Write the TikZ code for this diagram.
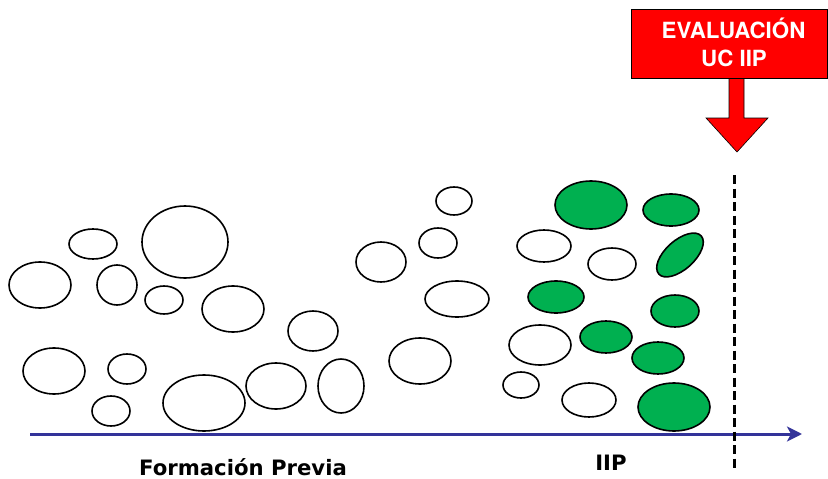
\documentclass[tikz,border=0pt]{standalone}
\usepackage{fontspec}
\newfontfamily\lblfont{DejaVu Sans}[BoldFont={DejaVu Sans Bold}]
\newfontfamily\boxfont{TeX Gyre Heros}
\usetikzlibrary{shapes.geometric, arrows.meta, positioning}
\definecolor{axisblue}{RGB}{51,51,153}
\definecolor{donegreen}{RGB}{0,176,80}

\begin{document}
\begin{tikzpicture}[x=1pt, y=-1pt,
    bubble/.style={draw, ellipse, line width=1.6pt, inner sep=0pt},
    done/.style={bubble, fill=donegreen},
    axislbl/.style={font=\lblfont\bfseries\fontsize{21.2}{24}\selectfont, anchor=base},
    boxlbl/.style={font=\boxfont\bfseries\fontsize{22.3}{26}\selectfont, text=white, anchor=base}]
\useasboundingbox (0,0) rectangle (828,479);

% earlier training
\node[bubble, minimum width=62pt, minimum height=46pt] (w1) at (40,285) {};
\node[bubble, minimum width=48pt, minimum height=30pt] (w2) at (93,244) {};
\node[bubble, minimum width=86pt, minimum height=72pt] (w3) at (185,242) {};
\node[bubble, minimum width=40pt, minimum height=40pt] (w4) at (117,285) {};
\node[bubble, minimum width=38pt, minimum height=28pt] (w5) at (164,300) {};
\node[bubble, minimum width=62pt, minimum height=46pt] (w6) at (233,309) {};
\node[bubble, minimum width=50pt, minimum height=40pt] (w7) at (313,331) {};
\node[bubble, minimum width=50pt, minimum height=40pt] (w8) at (381,262) {};
\node[bubble, minimum width=62pt, minimum height=46pt] (w9) at (54,371) {};
\node[bubble, minimum width=38pt, minimum height=30pt] (w10) at (127,369) {};
\node[bubble, minimum width=38pt, minimum height=30pt] (w11) at (111,411) {};
\node[bubble, minimum width=82pt, minimum height=56pt] (w12) at (204,403) {};
\node[bubble, minimum width=60pt, minimum height=46pt] (w13) at (276,386) {};
\node[bubble, minimum width=46pt, minimum height=54pt] (w14) at (341,386) {};
\node[bubble, minimum width=36pt, minimum height=28pt] (w15) at (454,201) {};
\node[bubble, minimum width=38pt, minimum height=30pt] (w16) at (438,243) {};
\node[bubble, minimum width=64pt, minimum height=36pt] (w17) at (457,299) {};
\node[bubble, minimum width=62pt, minimum height=46pt] (w18) at (420,361) {};
\node[bubble, minimum width=54pt, minimum height=32pt] (w19) at (544,246) {};
\node[bubble, minimum width=48pt, minimum height=32pt] (w20) at (612,264) {};
\node[bubble, minimum width=62pt, minimum height=40pt] (w21) at (540,345) {};
\node[bubble, minimum width=36pt, minimum height=26pt] (w22) at (521,385) {};
\node[bubble, minimum width=54pt, minimum height=34pt] (w23) at (589,400) {};

% IIP
\node[done, minimum width=72pt, minimum height=48pt] (g1) at (591,205) {};
\node[done, minimum width=56pt, minimum height=32pt] (g2) at (671,210) {};
\node[done, minimum width=57pt, minimum height=29pt, rotate=42] (g3) at (680,255) {};
\node[done, minimum width=56pt, minimum height=32pt] (g4) at (556,297) {};
\node[done, minimum width=48pt, minimum height=32pt] (g5) at (675,311) {};
\node[done, minimum width=52pt, minimum height=32pt] (g6) at (606,337) {};
\node[done, minimum width=52pt, minimum height=32pt] (g7) at (658,358) {};
\node[done, minimum width=72pt, minimum height=48pt] (g8) at (674,407) {};

% time axis
\coordinate (axstart) at (30,434);
\coordinate (axend) at (802,434);
\draw[axisblue, line width=3pt, -{Stealth[length=15pt, width=15pt, inset=4pt]}] (axstart) -- (axend);
\coordinate (cuttop) at (734,175);
\coordinate (cutbot) at (734,469);
\draw[line width=3pt, dash pattern=on 9pt off 4.5pt] (cuttop) -- (cutbot);

\node[axislbl] (prev) at (243,475) {Formación Previa};
\node[axislbl] (iip) at (611,470) {IIP};

% evaluation
\draw[fill=red, line width=0.6pt] (729,78) -- (729,118) -- (706,118) -- (737,152) -- (768,118) -- (744,118) -- (744,78) -- cycle;
\node[draw=black, fill=red, line width=0.6pt, minimum width=196pt, minimum height=69pt, inner sep=0pt] (evalbox) at (729,43.5) {};
\node[boxlbl] (evtxt) at (733.5,38) {EVALUACIÓN};
\node[boxlbl] (uctxt) at (734,66) {UC IIP};
\end{tikzpicture}
\end{document}
